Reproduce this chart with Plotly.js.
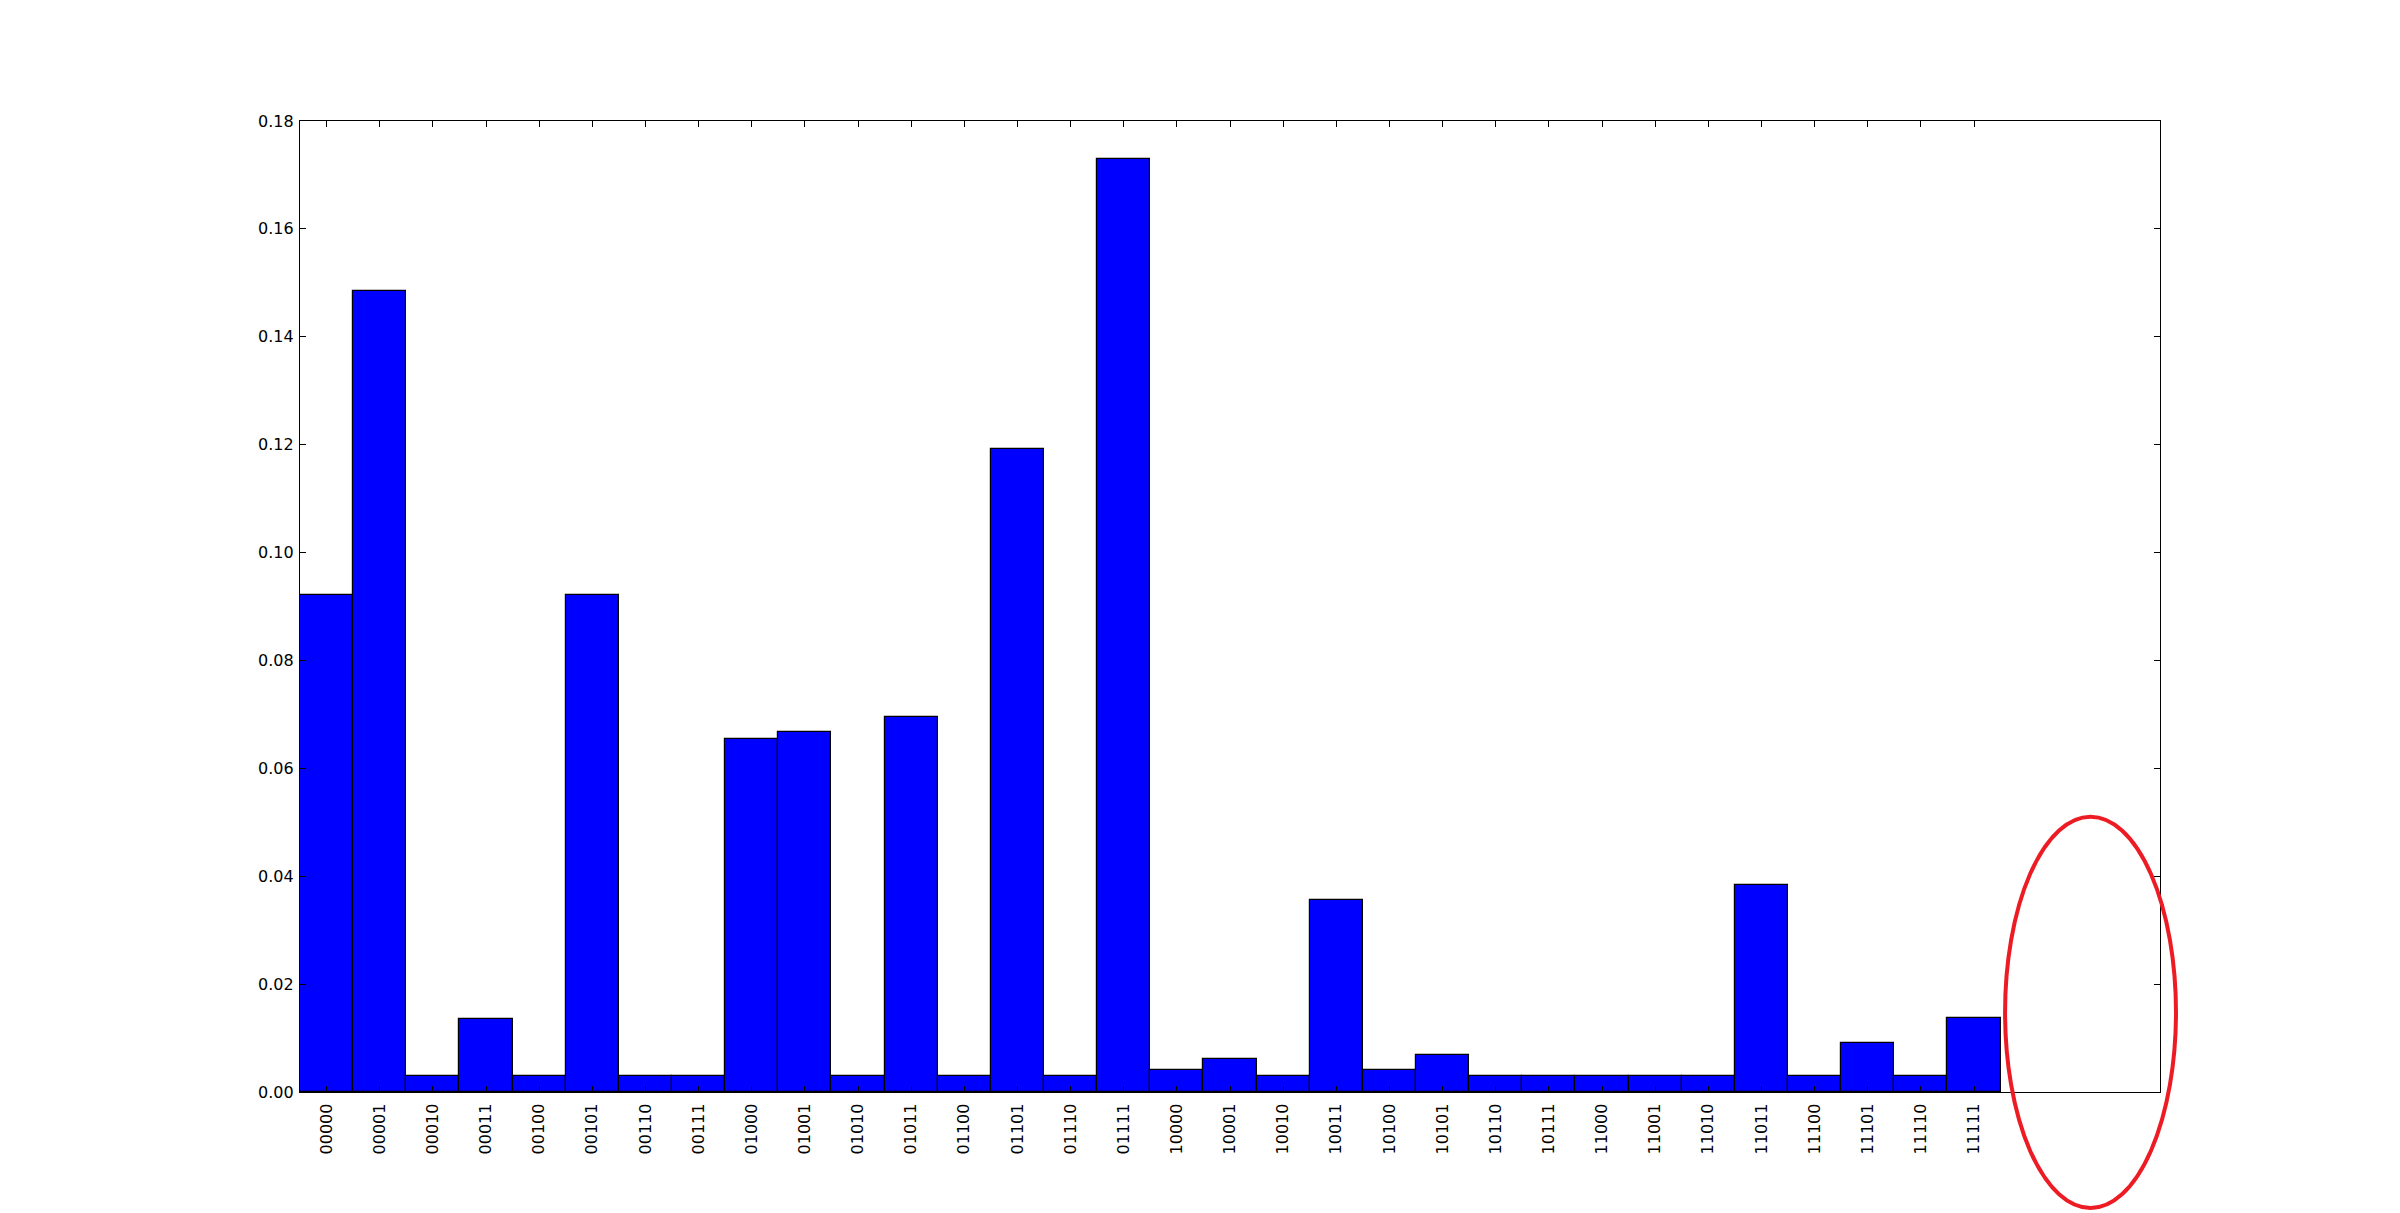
<!DOCTYPE html>
<html>
<head>
<meta charset="utf-8">
<script src="https://cdn.plot.ly/plotly-3.0.1.min.js"></script>
<style>
  html, body { margin: 0; padding: 0; background: #ffffff; }
  #chart { width: 2400px; height: 1213px; }
</style>
</head>
<body>
<div id="chart"></div>
<script>
// patrones de 5 bits y su frecuencia relativa
const PATTERNS = [
  '00000', '00001', '00010', '00011', '00100', '00101', '00110', '00111',
  '01000', '01001', '01010', '01011', '01100', '01101', '01110', '01111',
  '10000', '10001', '10010', '10011', '10100', '10101', '10110', '10111',
  '11000', '11001', '11010', '11011', '11100', '11101', '11110', '11111'
];

const FREQS = [
  0.0921, 0.1485, 0.0029, 0.0135, 0.0029, 0.0921, 0.0029, 0.0029,
  0.0654, 0.0667, 0.0029, 0.0695, 0.0029, 0.1192, 0.0029, 0.1729,
  0.0041, 0.0061, 0.0029, 0.0356, 0.0041, 0.0069, 0.0029, 0.0029,
  0.0029, 0.0029, 0.0029, 0.0384, 0.0029, 0.0091, 0.0029, 0.0137
];

const Y_TICKS = [0, 0.02, 0.04, 0.06, 0.08, 0.10, 0.12, 0.14, 0.16, 0.18];

const FONT = { family: 'DejaVu Sans, sans-serif', color: '#000000', size: 16 };

const trace = {
  type: 'bar',
  x: PATTERNS,
  y: FREQS,
  marker: {
    color: '#0000ff',
    line: { color: '#000000', width: 1.2 },
  },
  hoverinfo: 'x+y',
};

const layout = {
  width: 2400,
  height: 1213,
  paper_bgcolor: '#ffffff',
  plot_bgcolor: '#ffffff',
  font: FONT,
  margin: { l: 300, r: 240, t: 121, b: 121, pad: 0 },
  showlegend: false,
  bargap: 0,
  xaxis: {
    type: 'category',
    range: [-0.5, 34.5],
    tickangle: -90,
    ticks: 'inside',
    ticklen: 6,
    tickwidth: 1,
    tickcolor: '#000000',
    showline: true,
    linecolor: '#000000',
    linewidth: 1.3,
    mirror: 'ticks',
    showgrid: false,
    zeroline: false,
    tickfont: FONT,
    ticklabelstandoff: 4,
  },
  yaxis: {
    range: [0, 0.18],
    tickvals: Y_TICKS,
    tickformat: '.2f',
    ticks: 'inside',
    ticklen: 6,
    tickwidth: 1,
    tickcolor: '#000000',
    showline: true,
    linecolor: '#000000',
    linewidth: 1.3,
    mirror: 'ticks',
    showgrid: false,
    zeroline: false,
    tickfont: FONT,
    ticklabelstandoff: 2,
  },
  shapes: [{
    // marca roja a mano alzada sobre el hueco final
    type: 'circle',
    xref: 'paper',
    yref: 'paper',
    x0: 0.9167, x1: 1.0086,
    y0: -0.1195, y1: 0.2835,
    line: { color: '#ed1c24', width: 4 },
    layer: 'above',
  }],
};

Plotly.newPlot('chart', [trace], layout, { displayModeBar: false, responsive: false });
</script>
</body>
</html>
